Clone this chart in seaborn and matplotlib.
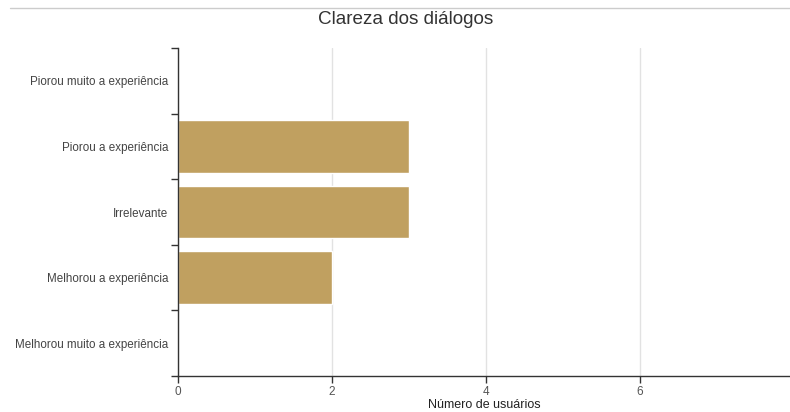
import matplotlib
matplotlib.use("Agg")
import matplotlib.pyplot as plt
import seaborn as sns
import pandas as pd
import numpy as np
from matplotlib.lines import Line2D

categories = ["Piorou muito a experiência", "Piorou a experiência", "Irrelevante",
              "Melhorou a experiência", "Melhorou muito a experiência"]
values = [0, 3, 3, 2, 0]
xticks = [0, 2, 4, 6]

sns.set_theme(style="white")
plt.rcParams['font.family'] = ['Liberation Sans', 'DejaVu Sans']

df = pd.DataFrame({"cat": categories, "val": values})

fig = plt.figure(figsize=(7.9, 4.12), dpi=100)
ax = fig.add_axes([178/790, 1 - 376/412, (790 - 178)/790, (376 - 48)/412])

sns.barplot(data=df, y="cat", x="val", order=categories, color="#C0A060",
            saturation=1, width=0.8, ax=ax, orient="h")

ax.set_xlim(0, 7.95)
ax.set_ylim(4.5, -0.5)
ax.set_xticks(xticks)
ax.set_xticklabels([str(t) for t in xticks], fontsize=8.5, color="#555555")
ax.grid(axis="x", color="#e2e2e2", linewidth=1)
ax.set_axisbelow(True)

ax.set_yticks(range(len(categories)))
ax.set_yticklabels(categories, fontsize=8.4, color="#444444")
ax.set_yticks(np.arange(-0.5, len(categories), 1), minor=True)
ax.tick_params(axis="y", which="major", length=0, pad=7)
ax.tick_params(axis="y", which="minor", length=5, width=1, color="#333333", direction="out", left=True)
ax.tick_params(axis="x", which="major", length=5, width=1, color="#333333", direction="out", bottom=True, pad=2)

for s in ["top", "right"]:
    ax.spines[s].set_visible(False)
for s in ["left", "bottom"]:
    ax.spines[s].set_color("#333333")
    ax.spines[s].set_linewidth(1)

ax.set_ylabel("")
ax.set_xlabel("Número de usuários", fontsize=9, color="#222222", labelpad=1)

fig.text(406/790, 1 - 20/412, "Clareza dos diálogos", ha="center", va="center", fontsize=13.6, color="#333333")
fig.add_artist(Line2D([10/790, 1], [1 - 8/412, 1 - 8/412], color="#cccccc", linewidth=1))

fig.savefig("out.png", dpi=100)
